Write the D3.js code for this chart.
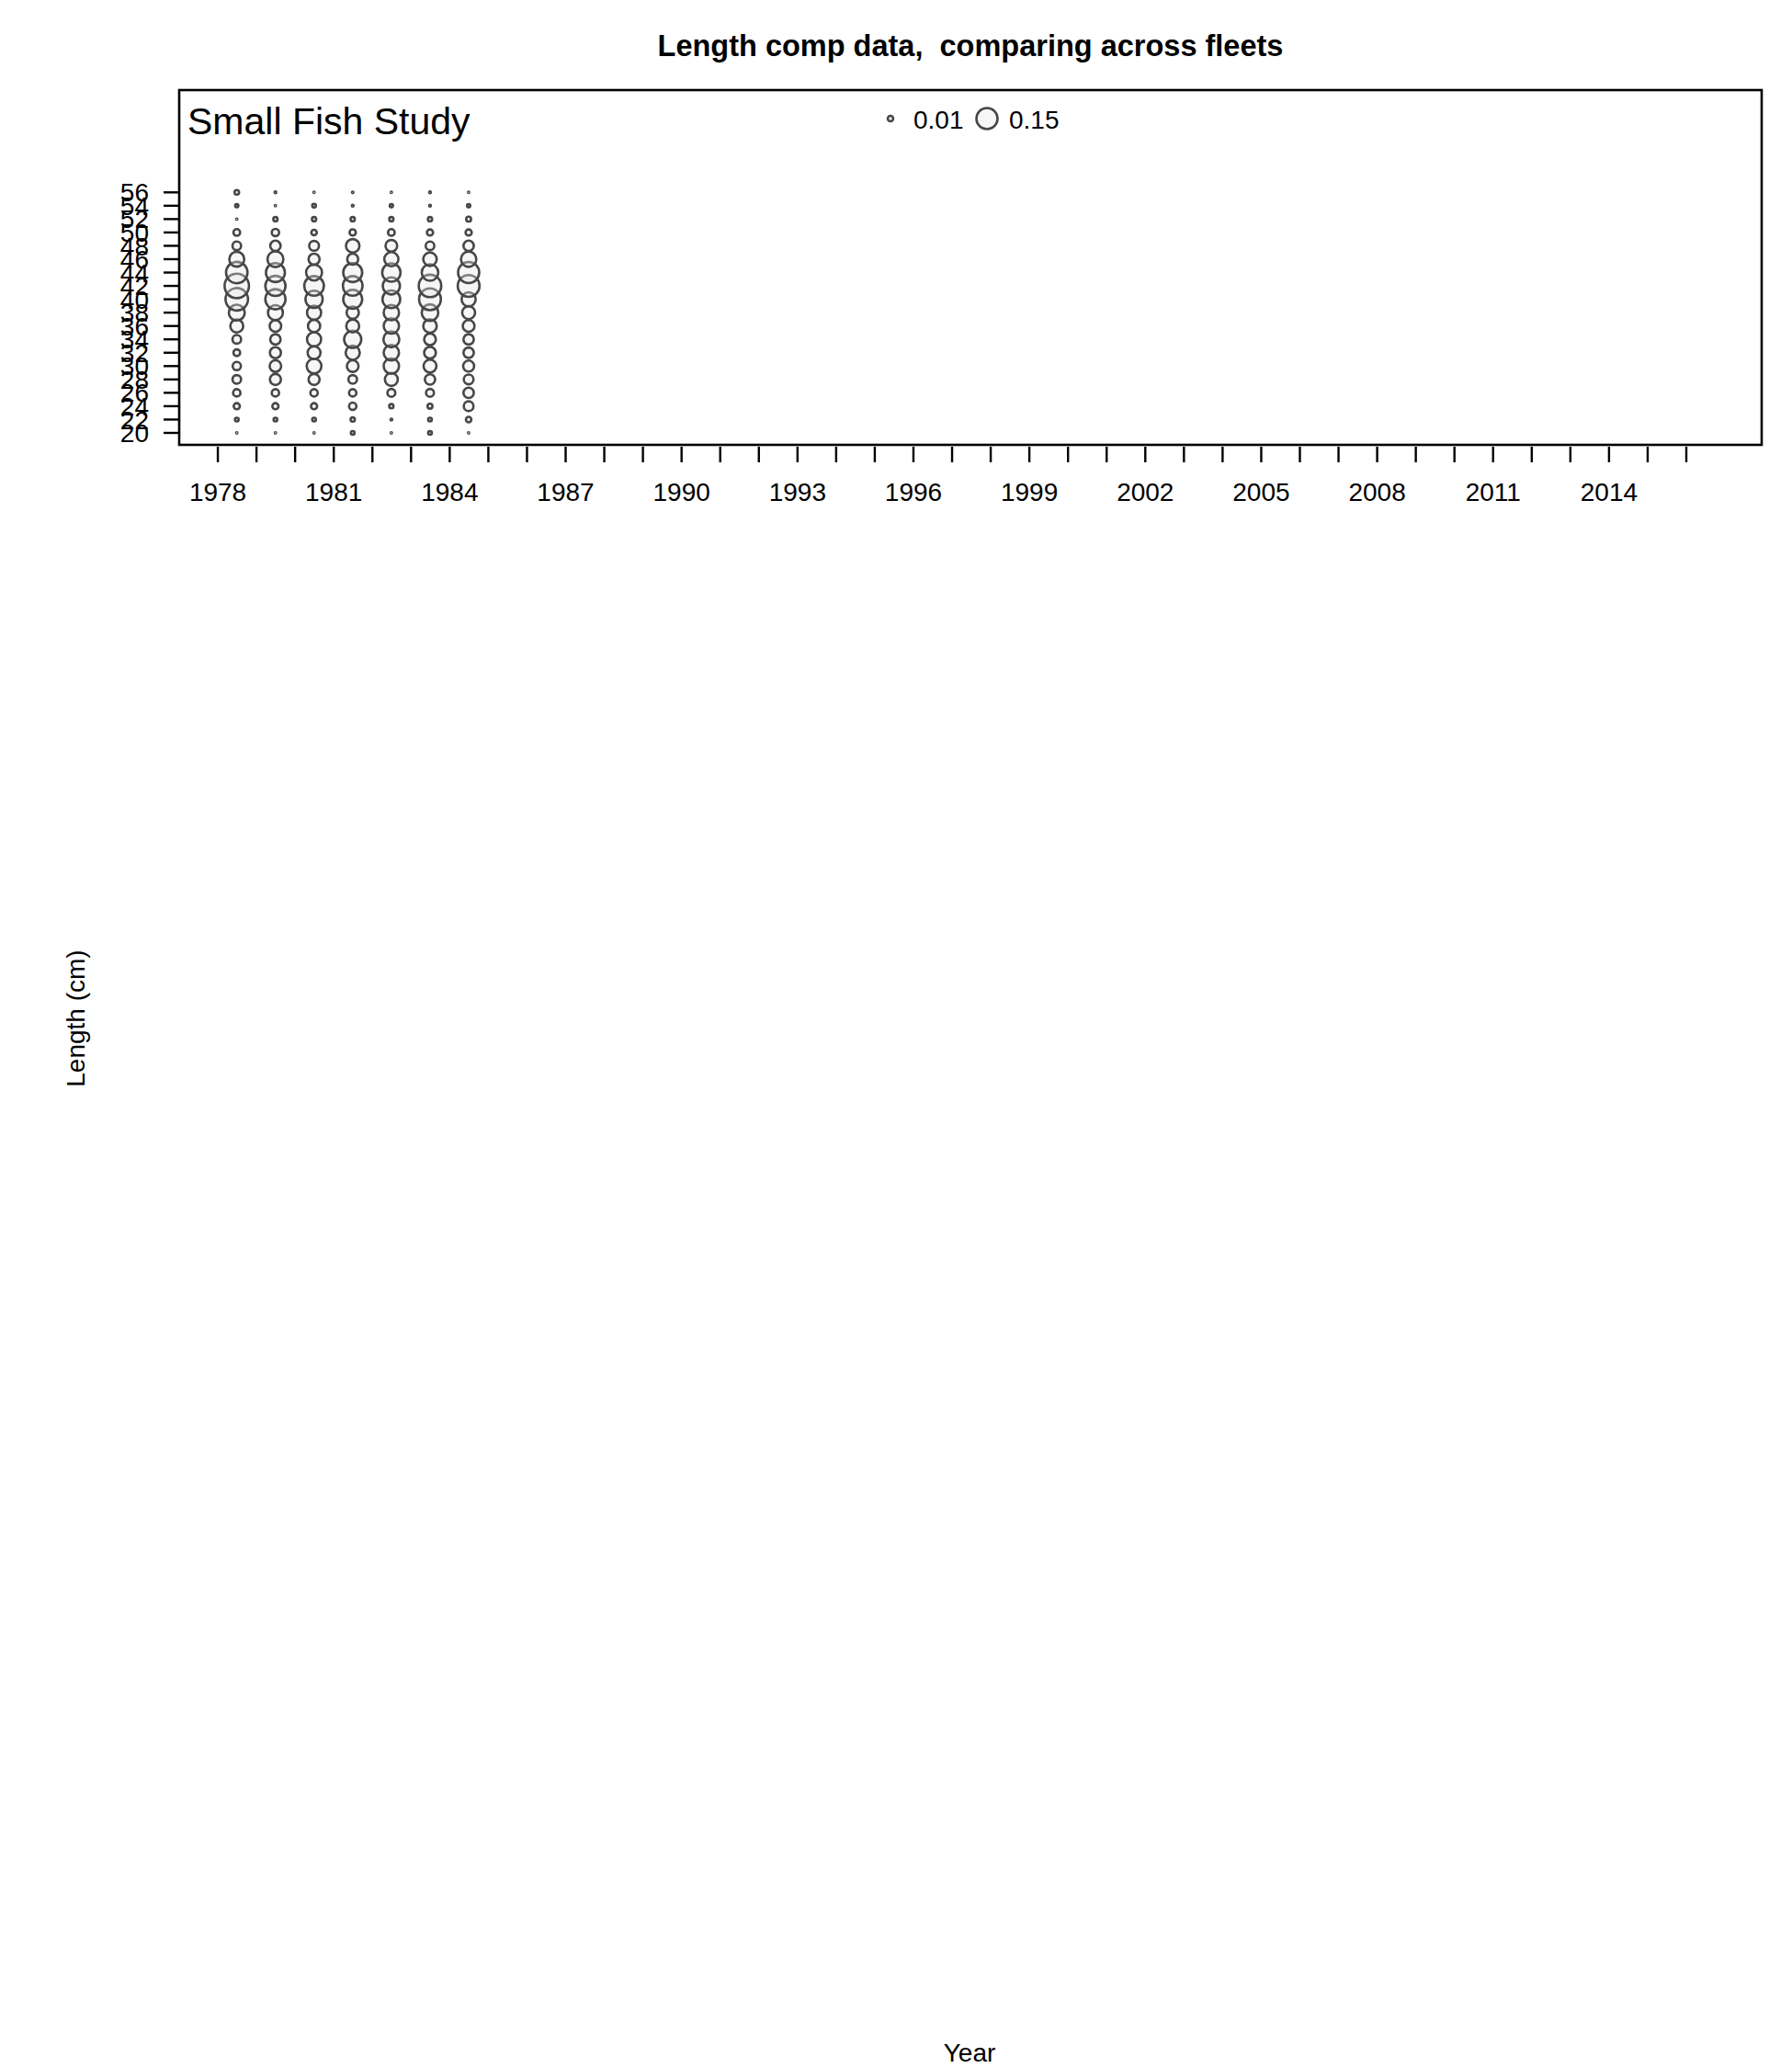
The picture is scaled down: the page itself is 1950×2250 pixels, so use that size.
<!DOCTYPE html>
<html>
<head>
<meta charset="utf-8">
<script src="https://cdn.jsdelivr.net/npm/d3@7"></script>
<style>
  html, body { margin: 0; padding: 0; background: #fff; }
  svg { display: block; font-family: "Liberation Sans", Arial, sans-serif; }
  text { white-space: pre; }
</style>
</head>
<body>
<svg id="chart" width="1950" height="2250"></svg>
<script>
// ---- data ----
const titleText = "Length comp data,  comparing across fleets";
const fleetName = "Small Fish Study";
const years = [1978, 1979, 1980, 1981, 1982, 1983, 1984];
const lengthBins = [20, 22, 24, 26, 28, 30, 32, 34, 36, 38, 40, 42, 44, 46, 48, 50, 52, 54, 56];
// proportions by year, bins 20..56
const comp1978 = [0.0005, 0.0045, 0.0126, 0.018, 0.025, 0.023, 0.015, 0.025, 0.056, 0.085, 0.17, 0.2, 0.155, 0.075, 0.025, 0.015, 0.0005, 0.0035, 0.007];
const comp1979 = [0.0005, 0.0045, 0.0126, 0.018, 0.041, 0.045, 0.041, 0.036, 0.045, 0.075, 0.137, 0.137, 0.121, 0.085, 0.036, 0.018, 0.006, 0.0005, 0.001];
const comp1980 = [0.0005, 0.0045, 0.0126, 0.018, 0.041, 0.073, 0.056, 0.067, 0.05, 0.067, 0.099, 0.129, 0.085, 0.041, 0.032, 0.01, 0.006, 0.0045, 0.0005];
const comp1981 = [0.0045, 0.006, 0.018, 0.018, 0.025, 0.046, 0.067, 0.099, 0.056, 0.05, 0.121, 0.129, 0.121, 0.041, 0.061, 0.013, 0.006, 0.001, 0.0008];
const comp1982 = [0.0005, 0.001, 0.006, 0.021, 0.056, 0.079, 0.079, 0.085, 0.079, 0.079, 0.106, 0.099, 0.113, 0.067, 0.046, 0.015, 0.006, 0.0035, 0.0005];
const comp1983 = [0.0045, 0.0045, 0.008, 0.021, 0.036, 0.056, 0.046, 0.046, 0.061, 0.092, 0.16, 0.17, 0.092, 0.061, 0.025, 0.0126, 0.006, 0.001, 0.001];
const comp1984 = [0.0005, 0.01, 0.032, 0.036, 0.032, 0.041, 0.036, 0.036, 0.046, 0.056, 0.067, 0.16, 0.15, 0.079, 0.036, 0.0126, 0.008, 0.0035, 0.0005];
const compValues = [comp1978, comp1979, comp1980, comp1981, comp1982, comp1983, comp1984];
const legendValues = [0.01, 0.15];
const xTickYears = d3.range(1978, 2017);
const xLabelYears = d3.range(1978, 2015, 3);
const yTickValues = lengthBins;

// ---- layout ----
const svg = d3.select("#chart");
const box = {left: 195, right: 1917, top: 98, bottom: 484};
const x = d3.scaleLinear().domain([1977, 2017.95]).range([box.left, box.right]);
const y = d3.scaleLinear().domain([20, 56]).range([471, 209.3]);
const r = d3.scaleSqrt().domain([0, 0.15]).range([0, 11.5]);
const yearOffset = 0.49;
const strokeCol = "#474747";
const fillCol = "rgba(230,230,230,0.35)";

// title
svg.append("text").attr("x", 1056).attr("y", 61).attr("text-anchor", "middle")
  .attr("font-size", 32.5).attr("font-weight", "bold").text(titleText);

// bubbles
const pts = [];
years.forEach((yr, i) => lengthBins.forEach((b, j) => pts.push({yr, b, v: compValues[i][j]})));
svg.append("g").selectAll("circle").data(pts).join("circle")
  .attr("cx", d => x(d.yr + yearOffset))
  .attr("cy", d => y(d.b))
  .attr("r", d => r(d.v))
  .attr("fill", fillCol)
  .attr("stroke", strokeCol)
  .attr("stroke-width", 2.6);

// box
svg.append("rect").attr("x", box.left).attr("y", box.top)
  .attr("width", box.right - box.left).attr("height", box.bottom - box.top)
  .attr("fill", "none").attr("stroke", "#000").attr("stroke-width", 2.6);

// x axis ticks
const xg = svg.append("g");
xg.selectAll("line").data(xTickYears).join("line")
  .attr("x1", d => x(d)).attr("x2", d => x(d))
  .attr("y1", 486).attr("y2", 503)
  .attr("stroke", "#000").attr("stroke-width", 2.4);
xg.selectAll("text").data(xLabelYears).join("text")
  .attr("x", d => x(d)).attr("y", 545)
  .attr("text-anchor", "middle").attr("font-size", 28)
  .text(d => d);

// y axis ticks
const yg = svg.append("g");
yg.selectAll("line").data(yTickValues).join("line")
  .attr("x1", 178).attr("x2", 194)
  .attr("y1", d => y(d)).attr("y2", d => y(d))
  .attr("stroke", "#000").attr("stroke-width", 2.4);
yg.selectAll("text").data(yTickValues).join("text")
  .attr("x", 162).attr("y", d => y(d)).attr("dy", "0.36em")
  .attr("text-anchor", "end").attr("font-size", 28)
  .text(d => d);

// fleet label
svg.append("text").attr("x", 204).attr("y", 146).attr("font-size", 41).text(fleetName);

// legend
const legX = [969, 1074];
const legTX = [994, 1098];
legendValues.forEach((v, i) => {
  svg.append("circle").attr("cx", legX[i]).attr("cy", 129).attr("r", r(v))
    .attr("fill", fillCol).attr("stroke", strokeCol).attr("stroke-width", 2.6);
  svg.append("text").attr("x", legTX[i]).attr("y", 140).attr("font-size", 28).text(v.toFixed(2));
});

// axis titles
svg.append("text").attr("transform", "translate(92,1108) rotate(-90)")
  .attr("text-anchor", "middle").attr("font-size", 28).text("Length (cm)");
svg.append("text").attr("x", 1055).attr("y", 2243)
  .attr("text-anchor", "middle").attr("font-size", 28).text("Year");
</script>
</body>
</html>
